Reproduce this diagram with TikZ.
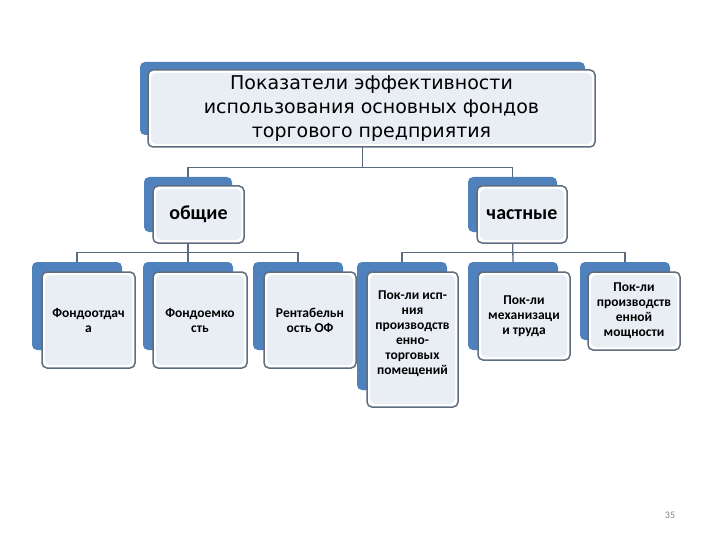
\documentclass[tikz,border=0pt]{standalone}
\usepackage{fontspec}
\setmainfont{Carlito}
\newfontfamily\titlefont{DejaVu Sans}
\begin{document}
\begin{tikzpicture}[x=1pt,y=-1pt,
  backbox/.style={draw=none,fill=bblue,rounded corners=5pt,inner sep=0pt},
  frontbox/.style={draw=bord,line width=1.5pt,fill=white,rounded corners=5pt,inner sep=2pt,align=center,
    path picture={\fill[ffill] ([shift={(3pt,-3pt)}]path picture bounding box.north west) rectangle ([shift={(-3pt,3pt)}]path picture bounding box.south east);}},
  conn/.style={draw=lineclr,line width=1.3pt},
  small/.style={font=\fontsize{13.5}{15}\selectfont\bfseries}]
\definecolor{bblue}{HTML}{4F81BD}
\definecolor{bord}{HTML}{5E6E80}
\definecolor{ffill}{HTML}{E9EEF5}
\definecolor{lineclr}{HTML}{5A6B80}
\useasboundingbox[fill=white] (0,0) rectangle (720,540);
% back boxes (connector anchors)
\node[backbox,minimum width=445pt,minimum height=73pt] (t) at (362.5,98.5) {};
\node[backbox,minimum width=88pt,minimum height=55pt] (g) at (188,204.5) {};
\node[backbox,minimum width=89pt,minimum height=55pt] (p) at (512.5,204.5) {};
\node[backbox,minimum width=90pt,minimum height=88pt] (n1) at (77,306) {};
\node[backbox,minimum width=90pt,minimum height=88pt] (n2) at (188,306) {};
\node[backbox,minimum width=90pt,minimum height=88pt] (n3) at (298,306) {};
\node[backbox,minimum width=90pt,minimum height=128pt] (n4) at (402,326) {};
\node[backbox,minimum width=90pt,minimum height=88pt] (n5) at (513,306) {};
\node[backbox,minimum width=90pt,minimum height=78pt] (n6) at (625,301) {};
% connectors
\draw[conn] (t.south) -- ++(0,32) -| (g.north);
\draw[conn] (t.south) -- ++(0,32) -| (p.north);
\draw[conn] (g.south) -- ++(0,20) -| (n1.north);
\draw[conn] (g.south) -- ++(0,20) -| (n3.north);
\draw[conn] (g.south) -- (n2.north);
\draw[conn] (p.south) -- ++(0,20) -| (n4.north);
\draw[conn] (p.south) -- ++(0,20) -| (n6.north);
\draw[conn] (p.south) -- (n5.north);
% front boxes
\node[frontbox,minimum width=447pt,minimum height=77pt,font=\titlefont\fontsize{19}{24}\selectfont] (tf) at (371.5,108.5) {Показатели эффективности\\использования основных фондов\\торгового предприятия};
\node[frontbox,minimum width=91pt,minimum height=57pt,font=\fontsize{20}{22}\selectfont\bfseries] (gf) at (198.5,214.5) {общие};
\node[frontbox,minimum width=90pt,minimum height=57pt,font=\fontsize{20}{22}\selectfont\bfseries] (pf) at (522,214.5) {частные};
\node[frontbox,small,minimum width=93pt,minimum height=96pt] (n1f) at (88.5,320) {Фондоотдач\\а};
\node[frontbox,small,minimum width=94pt,minimum height=96pt] (n2f) at (200,320) {Фондоемко\\сть};
\node[frontbox,small,minimum width=92pt,minimum height=96pt] (n3f) at (310,320) {Рентабельн\\ость ОФ};
\node[frontbox,small,minimum width=91pt,minimum height=135pt] (n4f) at (412.5,339.5) {};
\node[small,align=center] (n4t) at (412.5,334) {Пок-ли исп-\\ния\\производств\\енно-\\торговых\\помещений};
\node[frontbox,small,minimum width=92pt,minimum height=88pt] (n5f) at (524,316) {Пок-ли\\механизаци\\и труда};
\node[frontbox,small,minimum width=92pt,minimum height=78pt] (n6f) at (634,311) {Пок-ли\\производств\\енной\\мощности};
\node[font=\fontsize{10}{12}\selectfont,text=gray] (pg) at (670,515) {35};
\end{tikzpicture}
\end{document}
